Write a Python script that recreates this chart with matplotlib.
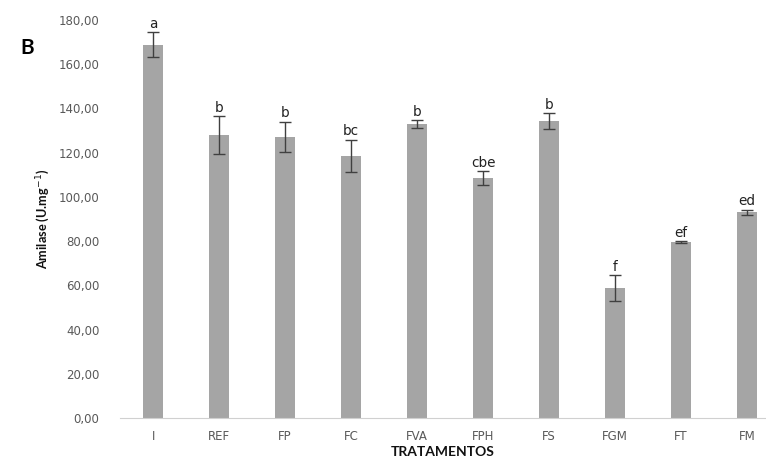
import matplotlib
matplotlib.use("Agg")
import matplotlib.pyplot as plt
from matplotlib.ticker import FuncFormatter

plt.rcParams['font.family'] = ['DejaVu Sans']

tratamentos = ["I", "REF", "FP", "FC", "FVA", "FPH", "FS", "FGM", "FT", "FM"]
amilase = [168.9, 128.0, 127.3, 118.6, 133.0, 108.6, 134.3, 58.8, 79.6, 93.1]
erro = [5.7, 8.6, 6.8, 7.3, 1.8, 3.2, 3.7, 5.9, 0.5, 1.1]
letras = ["a", "b", "b", "bc", "b", "cbe", "b", "f", "ef", "ed"]

fig = plt.figure(figsize=(7.66, 4.67), dpi=100)
ax = fig.add_axes([0.157, 0.105, 0.843, 0.852])

x = list(range(len(tratamentos)))
ax.bar(x, amilase, width=0.3, color="#a5a5a5", zorder=2)
ax.errorbar(x, amilase, yerr=erro, fmt="none", ecolor="#404040",
            elinewidth=1.0, capsize=4, capthick=1.0, zorder=3)

for xi, v, e, t in zip(x, amilase, erro, letras):
    ax.text(xi, v + e + 0.6, t, ha="center", va="bottom",
            fontsize=9.8, color="#222222")

ax.set_xlim(-0.5, 9.29)
ax.set_ylim(0, 180)
ax.set_yticks(range(0, 181, 20))
ax.yaxis.set_major_formatter(FuncFormatter(lambda v, p: f"{v:.2f}".replace(".", ",")))
ax.set_xticks(x)
ax.set_xticklabels(tratamentos)

for s in ["top", "right", "left"]:
    ax.spines[s].set_visible(False)
ax.spines["bottom"].set_color("#d0d0d0")
ax.tick_params(axis="both", length=0, labelsize=8.5, colors="#595959")
ax.tick_params(axis="x", pad=9)
ax.tick_params(axis="y", pad=15)

ax.set_ylabel("Amilase (U.mg$^{-1}$)", fontsize=9.2, fontweight="bold",
              color="#111111", labelpad=5, family="Lato")
ax.set_xlabel("TRATAMENTOS", fontsize=10, fontweight="bold",
              color="#111111", labelpad=2, family="Lato")

fig.text(0.026, 0.885, "B", fontsize=15, fontweight="bold", color="black",
         family="Lato")

fig.savefig("out.png", dpi=100)
